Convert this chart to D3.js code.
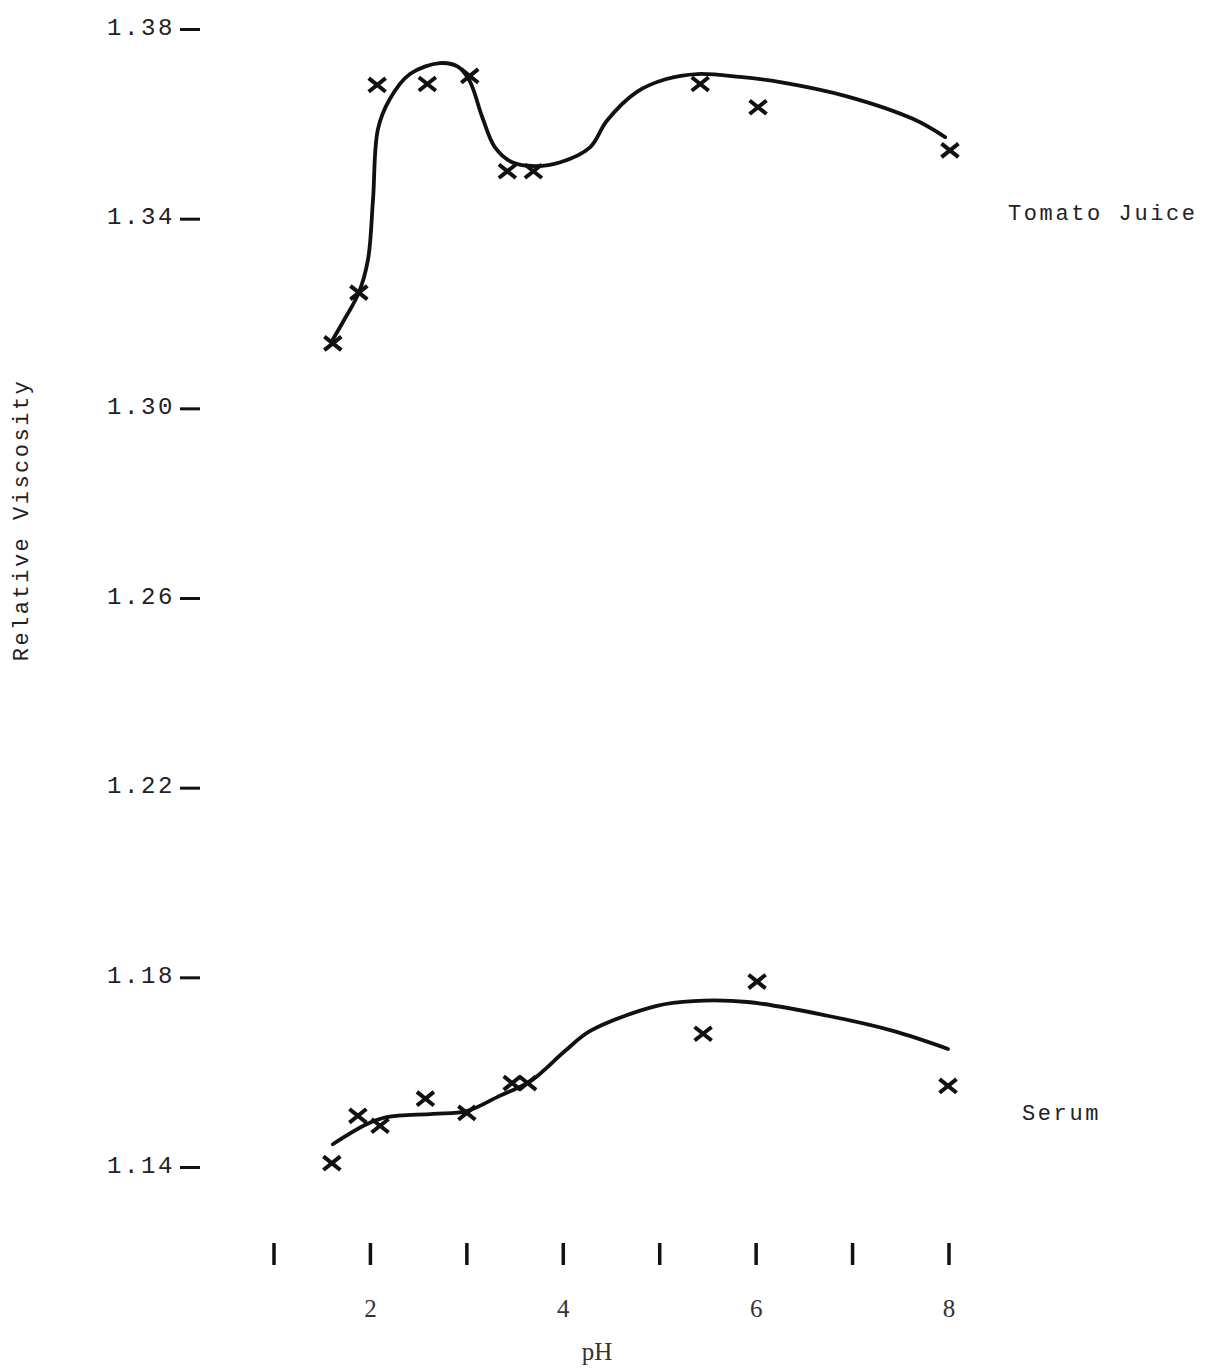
<!DOCTYPE html>
<html>
<head>
<meta charset="utf-8">
<script src="https://cdn.jsdelivr.net/npm/d3@7"></script>
<style>
  body { margin: 0; background: #fff; }
  .mono { font-family: "Liberation Mono", "DejaVu Sans Mono", monospace; fill: #222; }
  .serif { font-family: "Liberation Serif", "DejaVu Serif", serif; fill: #333; }
</style>
</head>
<body>
<div id="chart"></div>
<script>
var width = 1206,
    height = 1368;

// axis ticks
let yTicks = [1.14, 1.18, 1.22, 1.26, 1.30, 1.34, 1.38];
let xTickMarks = [1, 2, 3, 4, 5, 6, 7, 8];
let xTickLabels = [2, 4, 6, 8];

// measured points (pH, relative viscosity)
let tomatoPH  = [1.61, 1.88, 2.07, 2.59, 3.03, 3.42, 3.69, 5.42, 6.02, 8.01];
let tomatoVal = [1.3137, 1.3244, 1.3682, 1.3684, 1.3701, 1.3500, 1.3500, 1.3684, 1.3635, 1.3544];

let serumPH  = [1.60, 1.87, 2.10, 2.57, 3.00, 3.47, 3.63, 5.45, 6.01, 7.99];
let serumVal = [1.1408, 1.1508, 1.1487, 1.1544, 1.1514, 1.1577, 1.1577, 1.1681, 1.1791, 1.1571];

// hand drawn curves
let tomatoCurvePH  = [1.61, 1.74, 1.88, 1.975, 2.027, 2.078, 2.20, 2.41, 2.72, 2.91, 3.03, 3.16, 3.29, 3.47, 3.71, 3.97, 4.28, 4.45, 4.76, 5.06, 5.39, 5.83, 6.25, 6.94, 7.63, 7.96];
let tomatoCurveVal = [1.3145, 1.3191, 1.3244, 1.3314, 1.3441, 1.3589, 1.3652, 1.3705, 1.3728, 1.3720, 1.3690, 1.3614, 1.3551, 1.3519, 1.3511, 1.3519, 1.3551, 1.3606, 1.3667, 1.3694, 1.3705, 1.3699, 1.3688, 1.3658, 1.3610, 1.3572];

let serumCurvePH  = [1.61, 1.96, 2.17, 2.65, 3.00, 3.34, 3.66, 4.02, 4.28, 4.97, 5.35, 5.91, 6.74, 7.42, 7.99];
let serumCurveVal = [1.1448, 1.1490, 1.1505, 1.1512, 1.1518, 1.1550, 1.1581, 1.1645, 1.1687, 1.1740, 1.1750, 1.1748, 1.1719, 1.1687, 1.1649];

var svg = d3.select('#chart').append('svg')
    .attr('width', width)
    .attr('height', height);

let scaleX = d3.scaleLinear().domain([1, 8]).range([274, 949]);
let scaleY = d3.scaleLinear().domain([1.14, 1.38]).range([1167, 29]);

// y axis: label + short dash
let yAxis = d3.axisLeft(scaleY)
    .tickValues(yTicks)
    .tickSize(20)
    .tickPadding(5)
    .tickFormat(d3.format(".2f"));

let gy = svg.append('g')
    .attr('transform', 'translate(200,0)')
    .call(yAxis);
gy.select('.domain').remove();
gy.selectAll('.tick line')
    .attr('stroke', '#111')
    .attr('stroke-width', 3);
gy.selectAll('.tick text')
    .attr('class', 'mono')
    .attr('dy', '5px')
    .style('font-size', '24px')
    .style('letter-spacing', '2.6px')
    .attr('fill', '#222');

// x axis: vertical marks and labels
svg.selectAll('.x-mark').data(xTickMarks).enter()
    .append('line')
    .attr('class', 'x-mark')
    .attr('x1', d => scaleX(d))
    .attr('x2', d => scaleX(d))
    .attr('y1', 1243)
    .attr('y2', 1265)
    .attr('stroke', '#111')
    .attr('stroke-width', 3.5);

svg.selectAll('.x-label').data(xTickLabels).enter()
    .append('text')
    .attr('class', 'x-label serif')
    .attr('x', d => scaleX(d))
    .attr('y', 1317)
    .attr('text-anchor', 'middle')
    .style('font-size', '25px')
    .text(d => d);

svg.append('text')
    .attr('class', 'serif')
    .attr('x', 597)
    .attr('y', 1360)
    .attr('text-anchor', 'middle')
    .style('font-size', '25px')
    .text('pH');

svg.append('text')
    .attr('class', 'mono')
    .attr('transform', 'translate(28,520) rotate(-90)')
    .attr('text-anchor', 'middle')
    .style('font-size', '22px')
    .style('letter-spacing', '2.5px')
    .text('Relative Viscosity');

// series labels
svg.append('text')
    .attr('class', 'mono')
    .attr('x', 1008)
    .attr('y', 220)
    .style('font-size', '22px')
    .style('letter-spacing', '2.6px')
    .text('Tomato Juice');

svg.append('text')
    .attr('class', 'mono')
    .attr('x', 1022)
    .attr('y', 1120)
    .style('font-size', '22px')
    .style('letter-spacing', '2.6px')
    .text('Serum');

// curves
let line = d3.line()
    .x(d => scaleX(d[0]))
    .y(d => scaleY(d[1]))
    .curve(d3.curveCatmullRom.alpha(0.5));

function drawCurve(ph, val) {
    svg.append('path')
        .datum(d3.zip(ph, val))
        .attr('d', line)
        .attr('fill', 'none')
        .attr('stroke', '#111')
        .attr('stroke-width', 3.8)
        .attr('stroke-linecap', 'round');
}
drawCurve(tomatoCurvePH, tomatoCurveVal);
drawCurve(serumCurvePH, serumCurveVal);

// x markers
function drawCrosses(ph, val) {
    let s = 8.5;
    let g = svg.append('g');
    let pts = d3.zip(ph, val);
    g.selectAll('path').data(pts).enter()
        .append('path')
        .attr('d', d => {
            let cx = scaleX(d[0]), cy = scaleY(d[1]);
            return 'M' + (cx - s) + ',' + (cy - s * 0.8) + 'L' + (cx + s) + ',' + (cy + s * 0.8) +
                   'M' + (cx - s) + ',' + (cy + s * 0.8) + 'L' + (cx + s) + ',' + (cy - s * 0.8);
        })
        .attr('stroke', '#111')
        .attr('stroke-width', 4)
        .attr('fill', 'none');
}
drawCrosses(tomatoPH, tomatoVal);
drawCrosses(serumPH, serumVal);
</script>
</body>
</html>
